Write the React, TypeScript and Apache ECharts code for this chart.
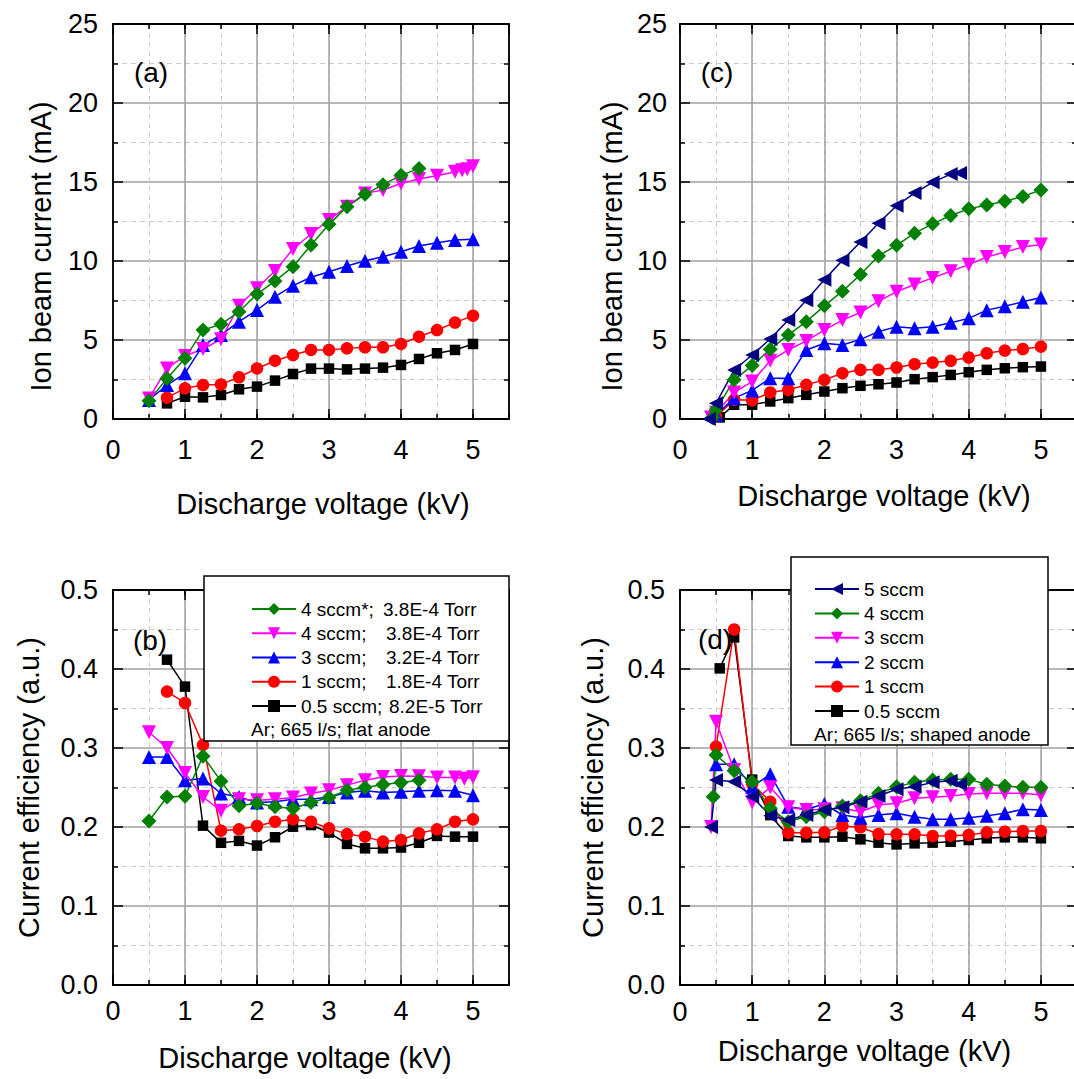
import React, { useEffect, useRef } from 'react';
import * as echarts from 'echarts';

const FONT = "'Liberation Sans', Arial, Helvetica, sans-serif";

// ---------- names ----------
const flatNames = [
  '4 sccm*; 3.8E-4 Torr',
  '4 sccm;   3.8E-4 Torr',
  '3 sccm;   3.2E-4 Torr',
  '1 sccm;   1.8E-4 Torr',
  '0.5 sccm; 8.2E-5 Torr',
];
const shapedNames = ['5 sccm', '4 sccm', '3 sccm', '2 sccm', '1 sccm', '0.5 sccm'];
const panelLabels = ['(a)', '(c)', '(b)', '(d)'];
const xName = 'Discharge voltage (kV)';
const yNameCurrent = 'Ion beam current (mA)';
const yNameEff = 'Current efficiency (a.u.)';
const flatFooter = 'Ar; 665 l/s; flat anode';
const shapedFooter = 'Ar; 665 l/s; shaped anode';

// ---------- (a) ion beam current, flat anode ----------
const a_4sccmStar = [[0.5,1.16],[0.75,2.57],[1,3.84],[1.25,5.63],[1.5,5.99],[1.75,6.79],[2,7.91],[2.25,8.73],[2.5,9.64],[2.75,11.01],[3,12.32],[3.25,13.44],[3.5,14.22],[3.75,14.83],[4,15.42],[4.25,15.86]];
const a_4sccm = [[0.5,1.3],[0.75,3.2],[1,3.99],[1.25,4.43],[1.5,5.04],[1.75,7.17],[2,8.27],[2.25,9.37],[2.5,10.76],[2.75,11.71],[3,12.6],[3.25,13.44],[3.5,14.28],[3.75,14.49],[4,14.9],[4.25,15.19],[4.5,15.4],[4.75,15.65],[4.85,15.75],[4.92,15.8],[5,16.0]];
const a_3sccm = [[0.5,1.2],[0.75,2.15],[1,2.89],[1.25,4.68],[1.5,5.32],[1.75,6.16],[2,6.9],[2.25,7.74],[2.5,8.44],[2.75,8.97],[3,9.32],[3.25,9.68],[3.5,10.02],[3.75,10.27],[4,10.59],[4.25,10.95],[4.5,11.16],[4.75,11.33],[5,11.37]];
const a_1sccm = [[0.75,1.35],[1,1.94],[1.25,2.15],[1.5,2.19],[1.75,2.64],[2,3.2],[2.25,3.69],[2.5,4.05],[2.75,4.37],[3,4.37],[3.25,4.47],[3.5,4.54],[3.75,4.54],[4,4.75],[4.25,5.21],[4.5,5.63],[4.75,6.1],[5,6.54]];
const a_05sccm = [[0.75,0.99],[1,1.41],[1.25,1.37],[1.5,1.52],[1.75,1.88],[2,2.05],[2.25,2.43],[2.5,2.85],[2.75,3.19],[3,3.19],[3.25,3.14],[3.5,3.19],[3.75,3.25],[4,3.42],[4.25,3.8],[4.5,4.16],[4.75,4.37],[5,4.75]];

// ---------- (b) current efficiency, flat anode ----------
const b_4sccmStar = [[0.5,0.2076],[0.75,0.238],[1,0.239],[1.25,0.2895],[1.5,0.258],[1.75,0.227],[2,0.23],[2.25,0.2256],[2.5,0.2235],[2.75,0.231],[3,0.2374],[3.25,0.2466],[3.5,0.25],[3.75,0.2538],[4,0.2563],[4.25,0.2592]];
const b_4sccm = [[0.5,0.32],[0.75,0.30],[1,0.2685],[1.25,0.238],[1.5,0.2206],[1.75,0.235],[2,0.234],[2.25,0.235],[2.5,0.2374],[2.75,0.2424],[3,0.2466],[3.25,0.253],[3.5,0.2592],[3.75,0.2634],[4,0.2647],[4.25,0.2643],[4.5,0.2626],[4.75,0.2626],[4.88,0.261],[5,0.263]];
const b_3sccm = [[0.5,0.2887],[0.75,0.2887],[1,0.2592],[1.25,0.2613],[1.5,0.2424],[1.75,0.238],[2,0.231],[2.25,0.232],[2.5,0.235],[2.75,0.235],[3,0.238],[3.25,0.2437],[3.5,0.2458],[3.75,0.2437],[4,0.2445],[4.25,0.2458],[4.5,0.2466],[4.75,0.2458],[5,0.2403]];
const b_1sccm = [[0.75,0.3714],[1,0.357],[1.25,0.304],[1.5,0.1954],[1.75,0.197],[2,0.2013],[2.25,0.2067],[2.5,0.2097],[2.75,0.2067],[3,0.1983],[3.25,0.191],[3.5,0.1878],[3.75,0.1815],[4,0.1836],[4.25,0.192],[4.5,0.197],[4.75,0.2067],[5,0.2097]];
const b_05sccm = [[0.75,0.4118],[1,0.3777],[1.25,0.2017],[1.5,0.18],[1.75,0.1824],[2,0.1765],[2.25,0.187],[2.5,0.2004],[2.75,0.2025],[3,0.193],[3.25,0.1786],[3.5,0.173],[3.75,0.173],[4,0.174],[4.25,0.18],[4.5,0.1887],[4.75,0.1878],[5,0.1878]];

// ---------- (c) ion beam current, shaped anode ----------
const c_5sccm = [[0.4,0.0],[0.5,1.0],[0.75,3.1],[1,4.05],[1.25,5.06],[1.5,6.26],[1.75,7.52],[2,8.82],[2.25,10.04],[2.5,11.2],[2.75,12.39],[3,13.5],[3.25,14.3],[3.5,14.98],[3.75,15.5],[3.88,15.57]];
const c_4sccm = [[0.45,0.1],[0.5,0.6],[0.75,2.48],[1,3.38],[1.25,4.41],[1.5,5.32],[1.75,6.16],[2,7.16],[2.25,8.09],[2.5,9.14],[2.75,10.32],[3,10.99],[3.25,11.76],[3.5,12.35],[3.75,12.88],[4,13.3],[4.25,13.55],[4.5,13.78],[4.75,14.08],[5,14.5]];
const c_3sccm = [[0.43,0.1],[0.5,0.4],[0.75,1.68],[1,2.37],[1.25,3.68],[1.5,4.37],[1.75,4.94],[2,5.63],[2.25,6.26],[2.5,6.74],[2.75,7.46],[3,8.05],[3.25,8.51],[3.5,8.93],[3.75,9.35],[4,9.77],[4.25,10.25],[4.5,10.57],[4.75,10.88],[5,11.05]];
const c_2sccm = [[0.5,0.27],[0.75,1.32],[1,1.81],[1.25,2.58],[1.5,2.58],[1.75,4.37],[2,4.79],[2.25,4.68],[2.5,5.04],[2.75,5.53],[3,5.84],[3.25,5.74],[3.5,5.84],[3.75,6.09],[4,6.37],[4.25,6.89],[4.5,7.14],[4.75,7.42],[5,7.69]];
const c_1sccm = [[0.5,0.15],[0.75,1.22],[1,1.18],[1.25,1.68],[1.5,1.85],[1.75,2.16],[2,2.48],[2.25,2.9],[2.5,3.11],[2.75,3.11],[3,3.26],[3.25,3.47],[3.5,3.57],[3.75,3.68],[4,3.89],[4.25,4.16],[4.5,4.33],[4.75,4.43],[5,4.58]];
const c_05sccm = [[0.55,0.1],[0.75,0.9],[1,0.9],[1.25,1.11],[1.5,1.32],[1.75,1.53],[2,1.74],[2.25,1.95],[2.5,2.1],[2.75,2.2],[3,2.31],[3.25,2.52],[3.5,2.65],[3.75,2.79],[4,2.96],[4.25,3.11],[4.5,3.21],[4.75,3.28],[5,3.32]];

// ---------- (d) current efficiency, shaped anode ----------
const d_5sccm = [[0.43,0.2],[0.5,0.2595],[0.75,0.2574],[1,0.2384],[1.25,0.2143],[1.5,0.2089],[1.75,0.2152],[2,0.2215],[2.25,0.2249],[2.5,0.232],[2.75,0.2392],[3,0.2477],[3.25,0.251],[3.5,0.2565],[3.75,0.2586],[3.88,0.254]];
const d_4sccm = [[0.46,0.2384],[0.5,0.291],[0.75,0.2713],[1,0.2574],[1.25,0.2236],[1.5,0.2068],[1.75,0.213],[2,0.2194],[2.25,0.2266],[2.5,0.2333],[2.75,0.2426],[3,0.251],[3.25,0.2565],[3.5,0.2595],[3.75,0.2603],[4,0.2603],[4.25,0.254],[4.5,0.2519],[4.75,0.2502],[5,0.2502]];
const d_3sccm = [[0.43,0.2],[0.5,0.3333],[0.75,0.272],[1,0.2312],[1.25,0.2502],[1.5,0.2249],[1.75,0.2215],[2,0.2224],[2.25,0.2236],[2.5,0.2194],[2.75,0.2278],[3,0.23],[3.25,0.2363],[3.5,0.2376],[3.75,0.2392],[4,0.2418],[4.25,0.2426],[4.5,0.2426],[4.75,0.2426],[5,0.2405]];
const d_2sccm = [[0.5,0.2793],[0.75,0.2793],[1,0.251],[1.25,0.2667],[1.5,0.2257],[1.75,0.2224],[2,0.2291],[2.25,0.2152],[2.5,0.2118],[2.75,0.2152],[3,0.2173],[3.25,0.2131],[3.5,0.2097],[3.75,0.2097],[4,0.2118],[4.25,0.2143],[4.5,0.2173],[4.75,0.2224],[5,0.2215]];
const d_1sccm = [[0.5,0.3017],[0.75,0.45],[1,0.255],[1.25,0.232],[1.5,0.1928],[1.75,0.1928],[2,0.1932],[2.25,0.2013],[2.5,0.1996],[2.75,0.1911],[3,0.1907],[3.25,0.1907],[3.5,0.1886],[3.75,0.189],[4,0.1899],[4.25,0.1932],[4.5,0.1941],[4.75,0.1949],[5,0.1949]];
const d_05sccm = [[0.55,0.4008],[0.75,0.44],[1,0.26],[1.25,0.215],[1.5,0.1886],[1.75,0.1869],[2,0.1869],[2.25,0.1878],[2.5,0.1844],[2.75,0.1802],[3,0.178],[3.25,0.1793],[3.5,0.1802],[3.75,0.1814],[4,0.1835],[4.25,0.1857],[4.5,0.1869],[4.75,0.1869],[5,0.1857]];

// ---------- styles ----------
const AX = '#000000';
const MAJ = '#a0a0a0';
const MIN = '#cccccc';

const STY: Record<string, { color: string; symbol: string; size: number; rotate: number }> = {
  green: { color: '#008000', symbol: 'diamond', size: 15, rotate: 0 },
  magenta: { color: '#ff00ff', symbol: 'triangle', size: 14, rotate: 180 },
  blue: { color: '#0000ff', symbol: 'triangle', size: 14, rotate: 0 },
  red: { color: '#ff0000', symbol: 'circle', size: 12.5, rotate: 0 },
  black: { color: '#000000', symbol: 'rect', size: 10.5, rotate: 0 },
  navy: { color: '#000080', symbol: 'triangle', size: 14, rotate: 90 },
};

const GRIDS = [
  { left: 113, top: 24, width: 396, height: 395 }, // (a)
  { left: 680, top: 24, width: 397, height: 395 }, // (c)
  { left: 113, top: 590, width: 396, height: 395 }, // (b)
  { left: 680, top: 590, width: 397, height: 395 }, // (d)
];

function mkSeries(name: string, data: number[][], sty: string, g: number) {
  const s = STY[sty];
  return {
    type: 'line',
    name,
    data,
    xAxisIndex: g * 4 + 1,
    yAxisIndex: g * 2,
    symbol: s.symbol,
    symbolSize: s.size,
    symbolRotate: s.rotate,
    showSymbol: true,
    clip: false,
    lineStyle: { color: s.color, width: 1.5 },
    itemStyle: { color: s.color },
    emphasis: { disabled: true },
  };
}

const tickStyle = { color: AX, width: 1.5 };
const nameStyle = (padding: number[]) => ({ fontSize: 29, fontFamily: FONT, color: '#000', padding });

function xAxesFor(g: number, labelMargin: number, nameGap: number, namePad: number[]) {
  const base = { type: 'value', gridIndex: g, min: 0, max: 5.5 };
  const minor = {
    ...base,
    interval: 0.5,
    axisLine: { show: false, onZero: false },
    axisLabel: { show: false },
    axisTick: { show: true, inside: true, length: 5, lineStyle: tickStyle },
  };
  const major = {
    ...base,
    interval: 1,
    axisLine: { show: true, onZero: false, lineStyle: { color: AX, width: 1.8 } },
    axisTick: { show: true, inside: true, length: 10, lineStyle: tickStyle },
  };
  return [
    { ...minor, position: 'bottom', splitLine: { show: true, lineStyle: { color: MIN, width: 1, type: [5, 4] } } },
    {
      ...major,
      position: 'bottom',
      splitLine: { show: true, lineStyle: { color: MAJ, width: 1.5 } },
      axisLabel: { show: true, margin: labelMargin, fontSize: 27, fontFamily: FONT, color: '#000', showMaxLabel: false },
      name: xName,
      nameLocation: 'middle',
      nameGap,
      nameMoveOverlap: false,
      nameTextStyle: nameStyle(namePad),
    },
    { ...minor, position: 'top', splitLine: { show: false } },
    { ...major, position: 'top', splitLine: { show: false }, axisLabel: { show: false } },
  ];
}

function yAxesFor(g: number, max: number, interval: number, fmt: (v: number) => string, yName: string, labelMargin: number, nameGap: number, namePad: number[]) {
  const base = {
    type: 'value',
    gridIndex: g,
    min: 0,
    max,
    interval,
    axisLine: { show: true, onZero: false, lineStyle: { color: AX, width: 1.8 } },
    axisTick: { show: true, inside: true, length: 10, lineStyle: tickStyle },
    minorTick: { show: true, splitNumber: 2, length: 5, lineStyle: tickStyle },
  };
  return [
    {
      ...base,
      position: 'left',
      splitLine: { show: true, lineStyle: { color: MAJ, width: 1.5 } },
      minorSplitLine: { show: true, lineStyle: { color: MIN, width: 1, type: [5, 4] } },
      axisLabel: { show: true, margin: labelMargin, fontSize: 27, fontFamily: FONT, color: '#000', formatter: fmt },
      name: yName,
      nameLocation: 'middle',
      nameGap,
      nameMoveOverlap: false,
      nameTextStyle: nameStyle(namePad),
    },
    { ...base, position: 'right', splitLine: { show: false }, minorSplitLine: { show: false }, axisLabel: { show: false } },
  ];
}

function flatLegendFormatter(name: string) {
  const i = name.indexOf(';');
  const head = name.slice(0, i + 1);
  const tail = name.slice(i + 1).trim();
  const key = head.startsWith('0.5') ? 'h3' : head.includes('*') ? 'h1' : 'h2';
  return `{${key}|${head}}{t|${tail}}`;
}

const legendText = { fontSize: 19, fontFamily: FONT, color: '#000', lineHeight: 19 };

function buildOption() {
  const intFmt = (v: number) => String(Math.round(v));
  const decFmt = (v: number) => v.toFixed(1);

  const xAxis = [
    ...xAxesFor(0, 17, 70, [0, 0, 0, 24]),
    ...xAxesFor(1, 17, 62, [0, 0, 0, 11]),
    ...xAxesFor(2, 12, 58, [0, 12, 0, 0]),
    ...xAxesFor(3, 13, 51, [0, 28, 0, 0]),
  ];
  const yAxis = [
    ...yAxesFor(0, 25, 5, intFmt, yNameCurrent, 15, 58, [0, 50, 0, 0]),
    ...yAxesFor(1, 25, 5, intFmt, yNameCurrent, 13, 54, [0, 50, 0, 0]),
    ...yAxesFor(2, 0.5, 0.1, decFmt, yNameEff, 15, 70, [0, 0, 0, 0]),
    ...yAxesFor(3, 0.5, 0.1, decFmt, yNameEff, 15, 73, [0, 0, 0, 0]),
  ];

  const series = [
    // (a)
    mkSeries(flatNames[4], a_05sccm, 'black', 0),
    mkSeries(flatNames[3], a_1sccm, 'red', 0),
    mkSeries(flatNames[2], a_3sccm, 'blue', 0),
    mkSeries(flatNames[1], a_4sccm, 'magenta', 0),
    mkSeries(flatNames[0], a_4sccmStar, 'green', 0),
    // (c)
    mkSeries(shapedNames[5], c_05sccm, 'black', 1),
    mkSeries(shapedNames[4], c_1sccm, 'red', 1),
    mkSeries(shapedNames[3], c_2sccm, 'blue', 1),
    mkSeries(shapedNames[2], c_3sccm, 'magenta', 1),
    mkSeries(shapedNames[1], c_4sccm, 'green', 1),
    mkSeries(shapedNames[0], c_5sccm, 'navy', 1),
    // (b)
    mkSeries(flatNames[4], b_05sccm, 'black', 2),
    mkSeries(flatNames[3], b_1sccm, 'red', 2),
    mkSeries(flatNames[2], b_3sccm, 'blue', 2),
    mkSeries(flatNames[1], b_4sccm, 'magenta', 2),
    mkSeries(flatNames[0], b_4sccmStar, 'green', 2),
    // (d)
    mkSeries(shapedNames[5], d_05sccm, 'black', 3),
    mkSeries(shapedNames[4], d_1sccm, 'red', 3),
    mkSeries(shapedNames[3], d_2sccm, 'blue', 3),
    mkSeries(shapedNames[2], d_3sccm, 'magenta', 3),
    mkSeries(shapedNames[1], d_4sccm, 'green', 3),
    mkSeries(shapedNames[0], d_5sccm, 'navy', 3),
  ];

  const labelPos = [
    [151, 72],
    [717, 72],
    [150, 640],
    [715, 639],
  ];

  const graphic: any[] = [
    ...panelLabels.map((t, i) => ({
      type: 'text',
      x: labelPos[i][0],
      y: labelPos[i][1],
      z: 5,
      style: { text: t, fontSize: 28, fontFamily: FONT, fill: '#000', align: 'center', verticalAlign: 'middle' },
    })),
    {
      type: 'rect',
      z: 8,
      shape: { x: 204, y: 576, width: 305, height: 165 },
      style: { fill: '#ffffff', stroke: '#000', lineWidth: 1.5 },
    },
    {
      type: 'rect',
      z: 8,
      shape: { x: 791, y: 557, width: 257, height: 188 },
      style: { fill: '#ffffff', stroke: '#000', lineWidth: 1.5 },
    },
    {
      type: 'text',
      x: 251,
      y: 729,
      z: 11,
      style: { text: flatFooter, fontSize: 19, fontFamily: FONT, fill: '#000', align: 'left', verticalAlign: 'middle' },
    },
    {
      type: 'text',
      x: 814,
      y: 734,
      z: 11,
      style: { text: shapedFooter, fontSize: 19, fontFamily: FONT, fill: '#000', align: 'left', verticalAlign: 'middle' },
    },
  ];

  return {
    animation: false,
    backgroundColor: '#ffffff',
    grid: GRIDS.map((g) => ({ ...g, containLabel: false, outerBoundsMode: 'none' })),
    xAxis,
    yAxis,
    series,
    legend: [
      {
        data: flatNames,
        orient: 'vertical',
        left: 251,
        top: 599.5,
        padding: 0,
        itemWidth: 44,
        itemHeight: 15,
        itemGap: 5.25,
        selectedMode: false,
        z: 10,
        formatter: flatLegendFormatter,
        textStyle: {
          ...legendText,
          rich: {
            h1: { ...legendText, width: 82 },
            h2: { ...legendText, width: 85 },
            h3: { ...legendText, width: 88 },
            t: { ...legendText },
          },
        },
      },
      {
        data: shapedNames,
        orient: 'vertical',
        left: 814,
        top: 579.5,
        padding: 0,
        itemWidth: 44,
        itemHeight: 15,
        itemGap: 5.4,
        selectedMode: false,
        z: 10,
        textStyle: { ...legendText },
      },
    ],
    graphic,
  };
}

export default function App() {
  const ref = useRef<HTMLDivElement>(null);
  useEffect(() => {
    if (!ref.current) return;
    const chart = echarts.init(ref.current, undefined, { renderer: 'svg' });
    chart.setOption(buildOption() as any);
    return () => chart.dispose();
  }, []);
  return (
    <div
      ref={ref}
      style={{ position: 'absolute', left: 0, top: 0, width: 1074, height: 1079, background: '#fff' }}
    />
  );
}
